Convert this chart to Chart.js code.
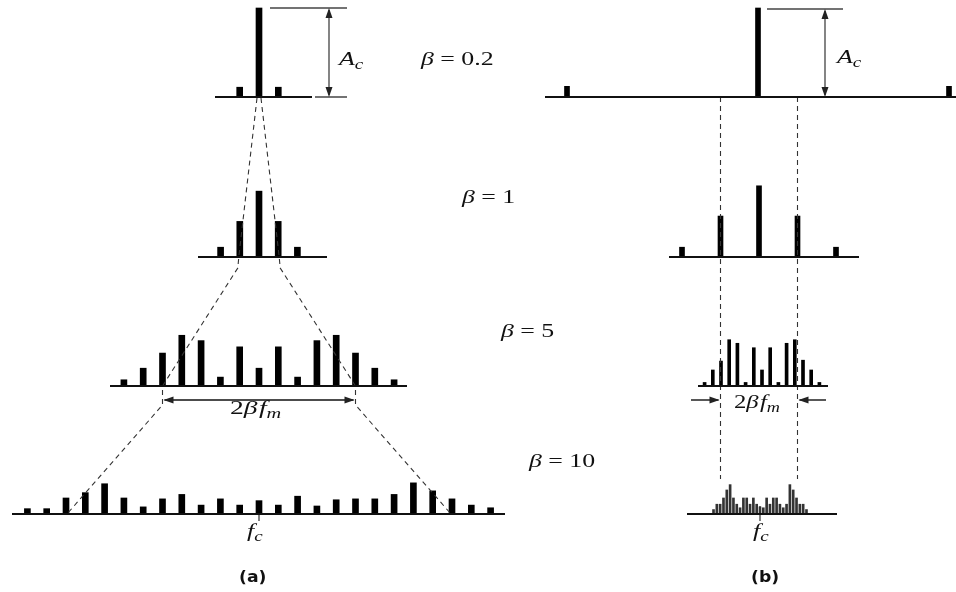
<!DOCTYPE html>
<html><head><meta charset="utf-8">
<script src="https://cdn.jsdelivr.net/npm/chart.js@4/dist/chart.umd.min.js"></script>
<style>html,body{margin:0;padding:0;background:#fff}#wrap{width:956px;height:592px;position:relative}</style>
</head><body><div id="wrap"><canvas id="c"></canvas></div>
<script>
// ---- data: sideband index k and amplitude (fraction of Ac) ----
const betaLabels = ['0.2', '1', '5', '10'];

// (a) fixed fm
const kA02 = [-1, 0, 1];
const ampA02 = [0.11, 1.00, 0.11];
const kA1 = [-2, -1, 0, 1, 2];
const ampA1 = [0.11, 0.40, 0.74, 0.40, 0.11];
const kA5 = [-7, -6, -5, -4, -3, -2, -1, 0, 1, 2, 3, 4, 5, 6, 7];
const ampA5 = [0.07, 0.20, 0.37, 0.57, 0.51, 0.10, 0.44, 0.20, 0.44, 0.10, 0.51, 0.57, 0.37, 0.20, 0.07];
const kA10 = [-12, -11, -10, -9, -8, -7, -6, -5, -4, -3, -2, -1, 0, 1, 2, 3, 4, 5, 6, 7, 8, 9, 10, 11, 12];
const ampA10 = [0.06, 0.06, 0.18, 0.24, 0.34, 0.18, 0.08, 0.17, 0.22, 0.10, 0.17, 0.10, 0.15,
                0.10, 0.20, 0.09, 0.16, 0.17, 0.17, 0.22, 0.35, 0.26, 0.17, 0.10, 0.07];

// (b) fixed frequency deviation
const kB02 = [-1, 0, 1];
const ampB02 = [0.12, 1.00, 0.12];
const kB1 = [-2, -1, 0, 1, 2];
const ampB1 = [0.11, 0.46, 0.80, 0.46, 0.11];
const kB5 = [-7, -6, -5, -4, -3, -2, -1, 0, 1, 2, 3, 4, 5, 6, 7];
const ampB5 = [0.04, 0.18, 0.28, 0.52, 0.48, 0.04, 0.43, 0.18, 0.43, 0.04, 0.48, 0.52, 0.29, 0.18, 0.04];
const kB10 = [-14, -13, -12, -11, -10, -9, -8, -7, -6, -5, -4, -3, -2, -1, 0, 1, 2, 3, 4, 5, 6, 7, 8, 9, 10, 11, 12, 13, 14];
const ampB10 = [0.05, 0.11, 0.11, 0.18, 0.27, 0.33, 0.18, 0.11, 0.07, 0.18, 0.18, 0.11, 0.18, 0.11, 0.08,
                0.07, 0.18, 0.11, 0.18, 0.18, 0.11, 0.07, 0.11, 0.33, 0.27, 0.18, 0.11, 0.11, 0.05];

// ---- layout (drawing units = canvas px) ----
const AC = 89;
const L = {
  a02: {cx: 259, sp: 19.3, base: 97, x0: 215, x1: 312, w: 6},
  a1:  {cx: 259, sp: 19.2, base: 257, x0: 198, x1: 327, w: 6},
  a5:  {cx: 259, sp: 19.3, base: 386, x0: 110, x1: 407, w: 6},
  a10: {cx: 259, sp: 19.3, base: 514, x0: 12, x1: 505, w: 6},
  b02: {cx: 758, sp: 191, base: 97, x0: 545, x1: 956, w: 5},
  b1:  {cx: 759, sp: 38.5, base: 257, x0: 669, x1: 859, w: 5},
  b5:  {cx: 762, sp: 8.2, base: 386, x0: 698, x1: 828, w: 3},
  b10: {cx: 760, sp: 3.32, base: 514, x0: 687, x1: 837, w: 2}
};

function bars(ks, amps, l, color) {
  return {
    type: 'bar', grouped: false, barThickness: l.w, backgroundColor: color, borderWidth: 0,
    data: ks.map((k, i) => ({x: l.cx + k * l.sp, y: [l.base, l.base - amps[i] * AC]}))
  };
}
function line(pts, color, width, dash) {
  return {
    type: 'line', data: pts.map(p => ({x: p[0], y: p[1]})), borderColor: color, borderWidth: width,
    borderDash: dash || [], pointRadius: 0, tension: 0, fill: false, order: -1
  };
}
function baseline(l) { return line([[l.x0, l.base], [l.x1, l.base]], '#111', 2); }
const px = (l, k) => l.cx + k * l.sp;

const DASH = [5, 4];
const datasets = [
  bars(kA02, ampA02, L.a02, '#000'), bars(kA1, ampA1, L.a1, '#000'),
  bars(kA5, ampA5, L.a5, '#000'), bars(kA10, ampA10, L.a10, '#000'),
  bars(kB02, ampB02, L.b02, '#000'), bars(kB1, ampB1, L.b1, '#000'),
  bars(kB5, ampB5, L.b5, '#000'), bars(kB10, ampB10, L.b10, '#333'),
  baseline(L.a02), baseline(L.a1), baseline(L.a5), baseline(L.a10),
  baseline(L.b02), baseline(L.b1), baseline(L.b5), baseline(L.b10),
  // Ac reference (a)
  line([[270, L.a02.base - AC], [347, L.a02.base - AC]], '#444', 1.5),
  line([[315, L.a02.base], [347, L.a02.base]], '#444', 1.5),
  line([[329, L.a02.base - AC + 2], [329, L.a02.base - 2]], '#444', 1.3),
  // Ac reference (b)
  line([[767, L.b02.base - AC + 1], [843, L.b02.base - AC + 1]], '#444', 1.5),
  line([[825, L.b02.base - AC + 3], [825, L.b02.base - 2]], '#444', 1.3),
  // dashed guides (a)
  line([[L.a02.cx - 2, L.a02.base + 1], [px(L.a1, -1) - 1, L.a1.base], [px(L.a1, -1) - 2, L.a1.base + 11],
        [px(L.a5, -5), L.a5.base], [px(L.a5, -5), L.a5.base + 19], [px(L.a10, -10) + 1, L.a10.base]], '#333', 1.1, DASH),
  line([[L.a02.cx + 2, L.a02.base + 1], [px(L.a1, 1) + 1, L.a1.base], [px(L.a1, 1) + 2, L.a1.base + 11],
        [px(L.a5, 5), L.a5.base], [px(L.a5, 5), L.a5.base + 19], [px(L.a10, 10) - 1, L.a10.base]], '#333', 1.1, DASH),
  // dashed guides (b)
  line([[px(L.b1, -1), L.b02.base], [px(L.b1, -1), 479]], '#333', 1.1, DASH),
  line([[px(L.b1, 1), L.b02.base], [px(L.b1, 1), 479]], '#333', 1.1, DASH),
  // 2βfm arrows
  line([[px(L.a5, -5) + 2, 400], [px(L.a5, 5) - 2, 400]], '#111', 1.4),
  line([[691, 400], [px(L.b1, -1) - 2, 400]], '#111', 1.4),
  line([[826, 400], [px(L.b1, 1) + 2, 400]], '#111', 1.4),
  // fc ticks
  line([[L.a10.cx, L.a10.base], [L.a10.cx, L.a10.base + 7]], '#333', 1.2),
  line([[L.b10.cx, L.b10.base - 8], [L.b10.cx, L.b10.base + 7]], '#333', 1.2)
];

const IT = 'italic 19px "Liberation Serif"';
const RM = '19px "Liberation Serif"';
const ITs = 'italic 14px "Liberation Serif"';
const BD = 'bold 15px "DejaVu Sans"';
const SX = 1.36;

function rich(ctx, x, y, parts, sx) {
  ctx.save(); ctx.translate(x, y); ctx.scale(sx, 1);
  ctx.fillStyle = '#111'; ctx.textBaseline = 'alphabetic'; ctx.textAlign = 'left';
  let cx = 0;
  for (const p of parts) {
    ctx.font = p.f;
    cx += p.dx || 0;
    ctx.fillText(p.t, cx, p.dy || 0);
    cx += ctx.measureText(p.t).width;
  }
  ctx.restore();
}
function head(ctx, x, y, ang) {
  ctx.save(); ctx.translate(x, y); ctx.rotate(ang);
  ctx.beginPath(); ctx.moveTo(0, 0); ctx.lineTo(-10, -3.5); ctx.lineTo(-10, 3.5); ctx.closePath();
  ctx.fillStyle = '#222'; ctx.fill(); ctx.restore();
}

const annot = {
  id: 'annot',
  afterDraw(chart) {
    const ctx = chart.ctx, X = v => chart.scales.x.getPixelForValue(v), Y = v => chart.scales.y.getPixelForValue(v);
    // arrowheads
    head(ctx, X(329), Y(L.a02.base - AC), -Math.PI / 2);
    head(ctx, X(329), Y(L.a02.base), Math.PI / 2);
    head(ctx, X(825), Y(L.b02.base - AC + 1), -Math.PI / 2);
    head(ctx, X(825), Y(L.b02.base), Math.PI / 2);
    head(ctx, X(px(L.a5, -5) + 1), Y(400), Math.PI);
    head(ctx, X(px(L.a5, 5) - 1), Y(400), 0);
    head(ctx, X(px(L.b1, -1) - 1), Y(400), 0);
    head(ctx, X(px(L.b1, 1) + 1), Y(400), Math.PI);
    // labels
    const betaPos = [[421, 65], [462, 203], [501, 337], [529, 467]];
    betaLabels.forEach((b, i) => rich(ctx, betaPos[i][0], betaPos[i][1], [{t: 'β', f: IT}, {t: ' = ' + b, f: RM}], SX));
    const Ac = [{t: 'A', f: IT}, {t: 'c', f: ITs, dy: 4, dx: 0}];
    rich(ctx, 339, 65, Ac, SX);
    rich(ctx, 837, 63, Ac, SX);
    const bf = [{t: '2', f: RM}, {t: 'β', f: IT}, {t: 'f', f: IT, dx: 1}, {t: 'm', f: ITs, dy: 4}];
    rich(ctx, 230, 414, bf, 1.45);
    rich(ctx, 734, 408, bf, 1.3);
    const fc = [{t: 'f', f: IT}, {t: 'c', f: ITs, dy: 4}];
    rich(ctx, 247, 537, fc, SX);
    rich(ctx, 753, 537, fc, SX);
    rich(ctx, 239, 582, [{t: '(a)', f: BD}], 1.15);
    rich(ctx, 751, 582, [{t: '(b)', f: BD}], 1.15);
  }
};

new Chart(document.getElementById('c'), {
  type: 'bar',
  data: {datasets},
  options: {
    responsive: true, maintainAspectRatio: false, animation: false,
    layout: {padding: 0},
    plugins: {legend: {display: false}, tooltip: {enabled: false}},
    scales: {
      x: {type: 'linear', min: 0, max: 956, display: false, offset: false},
      y: {type: 'linear', min: 0, max: 592, reverse: true, display: false}
    }
  },
  plugins: [annot]
});
</script></body></html>
